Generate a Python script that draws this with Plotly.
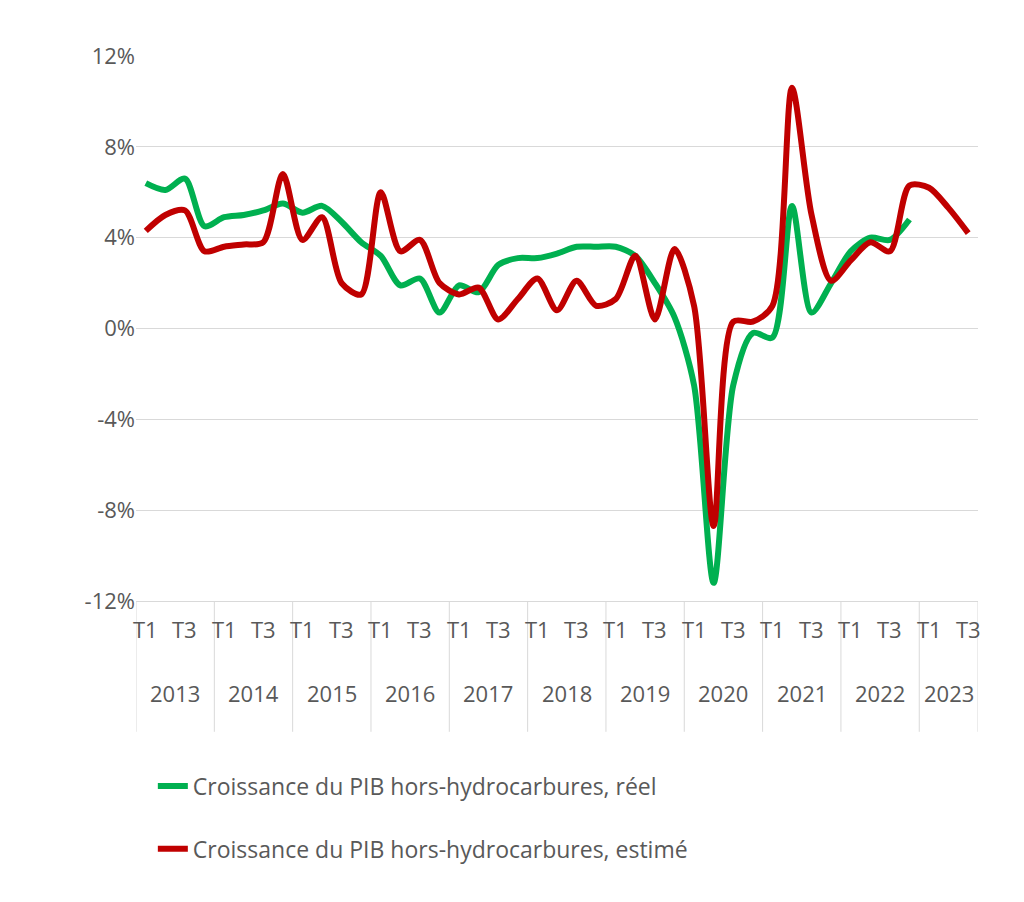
import plotly.graph_objects as go

years = ["2013","2014","2015","2016","2017","2018","2019","2020","2021","2022","2023"]
reel = [6.4,6.1,6.6,4.5,4.9,5.0,5.2,5.5,5.1,5.4,4.7,3.8,3.2,1.9,2.2,0.7,1.9,1.6,2.8,3.1,
        3.1,3.3,3.6,3.6,3.6,3.2,2.0,0.5,-2.5,-11.2,-2.5,-0.2,-0.4,5.4,0.7,2.0,3.4,4.0,3.9,4.8]
estime = [4.3,5.0,5.2,3.4,3.6,3.7,3.8,6.8,3.9,4.9,2.0,1.5,6.0,3.4,3.9,2.0,1.5,1.8,0.4,1.3,
          2.2,0.8,2.1,1.0,1.3,3.2,0.4,3.5,1.0,-8.7,0.3,0.3,1.0,10.6,5.0,2.1,3.0,3.8,3.4,6.3,
          6.2,5.3,4.2]
yticks = [-12,-8,-4,0,4,8,12]
n = len(estime)

fig = go.Figure()
fig.add_trace(go.Scatter(x=list(range(len(reel))), y=reel, mode="lines", line=dict(color="#00B050", width=6, shape="spline", smoothing=0.8),
                         name="Croissance du PIB hors-hydrocarbures, réel", legendgroup="a"))
fig.add_trace(go.Scatter(x=list(range(n)), y=estime, mode="lines", line=dict(color="#C00000", width=6, shape="spline", smoothing=0.8),
                         name="Croissance du PIB hors-hydrocarbures, estimé", legendgroup="b"))

ann = []
shapes = []
font = dict(family="Open Sans", size=22, color="#595959")
for k, yr in enumerate(years):
    qs = [i for i in range(4*k, 4*k+4) if i < n]
    for q, lab in ((4*k, "T1"), (4*k+2, "T3")):
        if q < n:
            ann.append(dict(x=q, y=-0.083, xref="x", yref="paper", text=lab, showarrow=False, font=font))
    ann.append(dict(x=(qs[0]+qs[-1])/2, y=-0.2, xref="x", yref="paper", text=yr, showarrow=False, font=font))
    shapes.append(dict(type="line", xref="x", yref="paper", x0=4*k-0.5, x1=4*k-0.5, y0=0, y1=-0.24, line=dict(color="#D9D9D9", width=1)))
shapes.append(dict(type="line", xref="x", yref="paper", x0=n-0.5, x1=n-0.5, y0=0, y1=-0.24, line=dict(color="#D9D9D9", width=1)))

fig.update_layout(
    width=1024, height=902, plot_bgcolor="white", paper_bgcolor="white",
    margin=dict(l=128, r=54, t=48, b=309, autoexpand=False),
    xaxis=dict(range=[-0.5, n-0.5], showticklabels=False, showgrid=False, zeroline=False,
               showline=True, linecolor="#D9D9D9"),
    yaxis=dict(range=[-12, 12], tickvals=yticks, ticktext=[f"{v}%" for v in yticks], tickfont=font,
               showgrid=True, gridcolor="#D9D9D9", zeroline=False, ticks="", ticklen=10, tickcolor="white"),
    annotations=ann, shapes=shapes,
    legend=dict(x=0.02, y=-0.3, xanchor="left", yanchor="top", font=dict(family="Open Sans", size=23, color="#595959"),
                tracegroupgap=30, bgcolor="rgba(0,0,0,0)"),
    showlegend=True,
)
fig.write_html("out.html")
